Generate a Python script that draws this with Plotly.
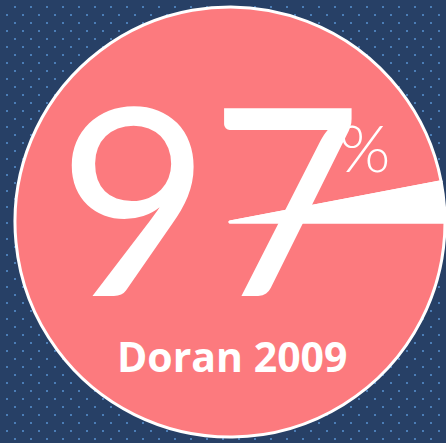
import numpy as np
import plotly.graph_objects as go

# ---- data ----
slice_labels = ["Agree", "Other"]
slice_values = [97, 3]
big_number = "97"
unit_label = "%"
source_label = "Doran 2009"

# ---- style ----
W, H = 446, 443
BG = "#274066"
DOT = "#4b7db6"
PINK = "#FC7A7E"
WHITE = "#FFFFFF"

# decorative staggered dot texture for the background
dx, dy = [], []
for j, yy in enumerate(range(-1, H + 8, 8)):
    x0 = 7 if j % 2 == 0 else 15
    for xx in range(x0, W + 8, 16):
        dx.append(xx)
        dy.append(yy)

fig = go.Figure()
fig.add_trace(go.Scatter(
    x=dx, y=dy, mode="markers",
    marker=dict(symbol="square", size=2, color=DOT, line=dict(width=0)),
    hoverinfo="skip", showlegend=False,
))

cx, cy, r = 230, 222, 215
fig.add_trace(go.Pie(
    labels=slice_labels, values=slice_values,
    sort=False, direction="clockwise", rotation=90,
    marker=dict(colors=[PINK, WHITE], line=dict(color=WHITE, width=3)),
    textinfo="none", hoverinfo="skip", showlegend=False,
    domain=dict(x=[(cx - r) / W, (cx + r) / W], y=[(H - cy - r) / H, (H - cy + r) / H]),
))

fig.add_annotation(x=210, y=194, xref="x", yref="y", text=big_number, showarrow=False,
                   xanchor="center", yanchor="middle",
                   font=dict(family="Lato", size=262, color=WHITE))
fig.add_annotation(x=364, y=146, xref="x", yref="y", text=unit_label, showarrow=False,
                   xanchor="center", yanchor="middle",
                   font=dict(family="Lato", size=66, color=WHITE, weight=300))
fig.add_annotation(x=232, y=356, xref="x", yref="y", text=source_label, showarrow=False,
                   xanchor="center", yanchor="middle",
                   font=dict(family="Open Sans", size=41, color=WHITE, weight="bold"))

fig.update_xaxes(range=[0, W], visible=False, fixedrange=True)
fig.update_yaxes(range=[H, 0], visible=False, fixedrange=True)
fig.update_layout(
    width=W, height=H, margin=dict(l=0, r=0, t=0, b=0, pad=0),
    paper_bgcolor=BG, plot_bgcolor=BG, showlegend=False,
)
fig.write_html(
    "out.html",
    config={"displayModeBar": False, "staticPlot": True},
    post_script="document.body.style.margin='0';document.body.style.overflow='hidden';",
)
